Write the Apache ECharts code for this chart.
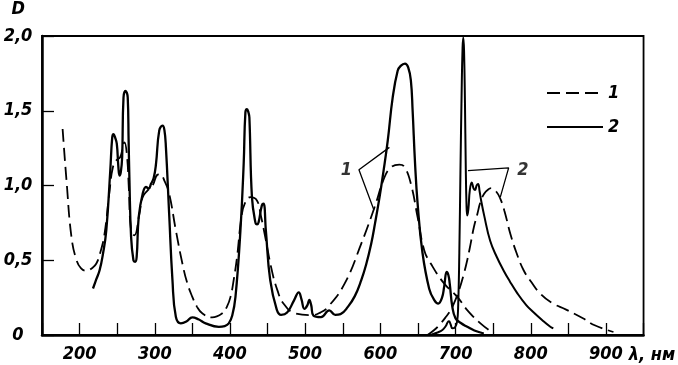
<!DOCTYPE html>
<html>
<head>
<meta charset="utf-8">
<script src="https://cdn.jsdelivr.net/npm/echarts@6/dist/echarts.min.js"></script>
<style>
    html, body { margin: 0; padding: 0; background: #fff; }
    #grafico { width: 678px; height: 365px; }
</style>
</head>
<body>
<div id="grafico"></div>
<script>
// curva 1 (discontinua): banda principal y banda de ~750 nm
var curva1a = [[177.4, 1.378], [182.6, 1.033], [189.2, 0.655], [195.9, 0.50], [202, 0.445], [209.1, 0.429], [216, 0.445], [222.3, 0.478], [228, 0.56], [233.2, 0.678], [239.9, 0.967], [244.2, 1.12], [248.7, 1.167], [254, 1.19], [259.7, 1.289], [263, 1.2], [265.5, 0.98], [268.5, 0.70], [272.9, 0.667], [279.5, 0.81], [283.9, 0.922], [290.5, 0.967], [297.1, 1.0], [303.7, 1.073], [307, 1.075], [313, 1.03], [319.1, 0.945], [328, 0.70], [336.7, 0.478], [343, 0.35], [349.9, 0.255], [356, 0.19], [363.1, 0.145], [376.3, 0.118], [389.6, 0.145], [396, 0.19], [400.7, 0.255], [405, 0.37], [409.4, 0.522], [415.2, 0.789], [419.6, 0.878], [427.1, 0.922], [435.8, 0.9], [441, 0.8], [446.9, 0.655], [455.6, 0.433], [463, 0.3], [471.1, 0.211], [486.5, 0.145], [508.5, 0.133], [520, 0.15], [530.6, 0.189], [552.6, 0.345], [574.6, 0.611], [592.3, 0.855], [605.5, 1.055], [614.2, 1.122], [625.3, 1.14], [631.9, 1.125], [640.6, 1.011], [649.5, 0.789], [658.3, 0.567], [667, 0.478], [684.7, 0.345], [702.3, 0.255], [715.5, 0.167], [733.1, 0.078], [750.8, 0.01]];
var curva1b = [[662.7, 0], [672, 0.035], [680.3, 0.078], [687, 0.12], [693.5, 0.167], [699, 0.225], [704.6, 0.3], [710, 0.39], [715.5, 0.5], [720, 0.61], [724.4, 0.722], [729, 0.81], [733.1, 0.89], [738, 0.945], [743, 0.972], [747.5, 0.982], [754, 0.96], [759.6, 0.91], [765, 0.83], [772.8, 0.678], [781, 0.55], [790.5, 0.433], [800, 0.36], [812.4, 0.278], [828, 0.215], [847, 0.17], [870, 0.11], [885, 0.065], [910, 0.02]];

// curva 2 (continua): banda principal y banda de ~710 nm
var curva2a = [[217.8, 0.311], [222, 0.37], [226.6, 0.433], [231, 0.54], [235.5, 0.70], [240.8, 1.10], [243.4, 1.322], [245.1, 1.344], [247.3, 1.32], [249.5, 1.278], [251.5, 1.13], [253.1, 1.067], [254.8, 1.09], [256.6, 1.189], [258.4, 1.589], [261, 1.633], [264, 1.589], [265.2, 1.3], [266.3, 1.033], [268.5, 0.655], [271.6, 0.5], [273.8, 0.49], [275.9, 0.522], [278.6, 0.789], [283.9, 0.945], [288.3, 0.99], [292, 0.98], [295, 1.011], [298.5, 1.05], [301.6, 1.144], [305.9, 1.367], [310.3, 1.40], [312.8, 1.37], [314.8, 1.255], [319.1, 0.811], [323.5, 0.367], [328, 0.122], [334.6, 0.078], [342, 0.09], [349.9, 0.118], [358, 0.105], [367.6, 0.078], [385.2, 0.055], [393, 0.06], [398.4, 0.078], [403, 0.13], [407.3, 0.255], [413.9, 0.70], [418.2, 1.144], [420.5, 1.489], [422.6, 1.511], [424.5, 1.49], [425.8, 1.455], [429.2, 0.922], [433.7, 0.755], [436, 0.74], [438.1, 0.755], [442.4, 0.867], [444.7, 0.878], [447.7, 0.70], [453.5, 0.367], [462.2, 0.17], [468, 0.135], [476, 0.15], [485, 0.23], [491.5, 0.285], [495, 0.24], [499, 0.175], [503, 0.2], [505.5, 0.235], [508, 0.2], [511, 0.13], [521, 0.12], [532, 0.165], [540, 0.135], [547, 0.14], [557, 0.19], [566, 0.26], [574.6, 0.367], [581, 0.47], [587.8, 0.61], [593, 0.75], [598.9, 0.922], [604, 1.09], [609.8, 1.3], [616.4, 1.589], [623, 1.767], [627, 1.8], [632.7, 1.815], [637, 1.79], [640.6, 1.70], [642.9, 1.5], [646, 1.16], [649.5, 0.88], [656, 0.55], [664.9, 0.31], [671.5, 0.235], [677, 0.21], [682, 0.25], [684.8, 0.322], [688.2, 0.422], [690.5, 0.4], [692.2, 0.345], [695.7, 0.189], [700, 0.111], [707, 0.08], [715.5, 0.055], [725, 0.03], [737.6, 0.01]];
var curva2b = [[667, 0], [675, 0.015], [682.5, 0.033], [687, 0.06], [689.5, 0.085], [691.3, 0.092], [693.5, 0.07], [695.7, 0.045], [699, 0.05], [702, 0.09], [703.5, 0.2], [705, 0.55], [706.5, 1.1], [708, 1.6], [709.3, 1.92], [710.3, 1.99], [711.3, 1.9], [712.5, 1.55], [713.5, 1.15], [714.5, 0.88], [715.5, 0.8], [717, 0.84], [719, 0.97], [721.5, 1.02], [724, 0.98], [726, 0.97], [728, 1.0], [730, 1.01], [732, 0.96], [734, 0.9], [738, 0.8], [746, 0.63], [755, 0.52], [764, 0.43], [772, 0.36], [782, 0.28], [794, 0.2], [804, 0.15], [815, 0.1], [826, 0.055], [830, 0.045]];

// llaves de las etiquetas "1" y "2"
var llave1 = [[612, 1.255], [571.5, 1.105], [591.3, 0.838]];
var llave2 = [[716.5, 1.1], [770.6, 1.118], [759.5, 0.922]];
var etiquetas = [[554.7, 1.104, '1'], [789.5, 1.10, '2']];

var xTicks = ['200', '300', '400', '500', '600', '700', '800', '900'];
var yTicks = ['0', '0,5', '1,0', '1,5', '2,0'];

var fuente = {
    fontFamily: "'DejaVu Sans Condensed', 'DejaVu Sans', sans-serif",
    fontStyle: 'italic',
    fontWeight: 'bold',
    fontSize: 18,
    color: '#000'
};

document.addEventListener('DOMContentLoaded', function () {
    var chart = echarts.init(document.getElementById('grafico'), null, { renderer: 'canvas' });

    var lineaDisc = { color: '#000', width: 1.8, type: [13, 6] };
    var lineaCont = { color: '#000', width: 2.3, type: 'solid' };
    var suave = 0.45;

    var option = {
        animation: false,
        backgroundColor: '#fff',
        grid: {
            left: 42, top: 35, width: 605, height: 300,
            show: true, borderColor: '#000', borderWidth: 1.8, backgroundColor: 'transparent'
        },
        legend: {
            data: ['1', '2'],
            orient: 'vertical',
            left: 541, top: 79,
            itemWidth: 56, itemHeight: 14, itemGap: 16,
            itemStyle: { opacity: 0 },
            textStyle: fuente
        },
        xAxis: {
            type: 'value',
            min: 150, max: 950, interval: 50,
            name: 'λ, нм',
            nameLocation: 'end',
            nameGap: -27,
            nameTextStyle: Object.assign({}, fuente, { align: 'left', verticalAlign: 'top', padding: [11, 0, 0, 0] }),
            axisLine: { lineStyle: { color: '#000', width: 2.5 } },
            axisTick: { inside: true, length: 12, lineStyle: { color: '#000', width: 1.3 } },
            axisLabel: Object.assign({}, fuente, {
                margin: 10,
                formatter: function (v) {
                    var s = String(v);
                    return xTicks.indexOf(s) >= 0 ? s : '';
                }
            }),
            splitLine: { show: false }
        },
        yAxis: {
            type: 'value',
            min: 0, max: 2, interval: 0.5,
            name: 'D',
            nameLocation: 'end',
            nameGap: 18,
            nameTextStyle: Object.assign({}, fuente, { align: 'right', padding: [0, 17, 0, 0] }),
            axisLine: { lineStyle: { color: '#000', width: 2.5 } },
            axisTick: { inside: true, length: 12, lineStyle: { color: '#000', width: 1.3 } },
            axisLabel: Object.assign({}, fuente, {
                margin: 24,
                align: 'center',
                formatter: function (v) {
                    return yTicks[Math.round(v / 0.5)];
                }
            }),
            splitLine: { show: false }
        },
        series: [
            { name: '1', type: 'line', data: curva1a, smooth: suave, symbol: 'none', lineStyle: lineaDisc, itemStyle: { color: '#000' } },
            { name: '1', type: 'line', data: curva1b, smooth: suave, symbol: 'none', lineStyle: lineaDisc, itemStyle: { color: '#000' } },
            { name: '2', type: 'line', data: curva2a, smooth: suave, symbol: 'none', lineStyle: lineaCont, itemStyle: { color: '#000' } },
            { name: '2', type: 'line', data: curva2b, smooth: suave, symbol: 'none', lineStyle: { color: '#000', width: 2 }, itemStyle: { color: '#000' } },
            { type: 'line', data: llave1, symbol: 'none', silent: true, lineStyle: { color: '#000', width: 1.3 } },
            { type: 'line', data: llave2, symbol: 'none', silent: true, lineStyle: { color: '#000', width: 1.3 } },
            {
                type: 'scatter', data: etiquetas, symbolSize: 1, silent: true,
                itemStyle: { color: 'rgba(0,0,0,0)' },
                label: Object.assign({}, fuente, {
                    show: true, position: 'inside',
                    formatter: function (p) { return p.value[2]; }
                })
            }
        ]
    };
    chart.setOption(option);
});
</script>
</body>
</html>
